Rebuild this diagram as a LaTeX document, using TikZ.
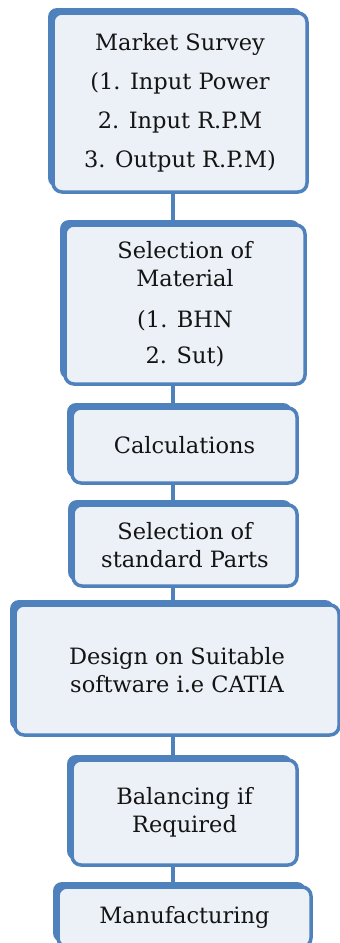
\documentclass[tikz,border=0pt]{standalone}
\usepackage{fontspec}
\setmainfont{DejaVu Serif}
\definecolor{flowBlue}{RGB}{79,129,189}
\definecolor{flowFill}{RGB}{236,240,247}
\definecolor{flowText}{RGB}{20,20,20}
\usetikzlibrary{shapes,arrows,positioning,shadows}

\begin{document}
\begin{tikzpicture}[x=1pt,y=1pt,
    stepbox/.style={draw=flowBlue, line width=3.5pt, fill=flowFill, rounded corners=9pt,
        align=center, text=flowText, inner sep=0pt,
        font=\fontsize{22.5}{28}\selectfont,
        drop shadow={shadow xshift=-5pt, shadow yshift=5pt, fill=flowBlue, opacity=1}},
    link/.style={draw=flowBlue, line width=4pt}]
    \useasboundingbox (0,0) rectangle (340,-943);
    \coordinate (spine) at (173,0);

    % Market survey (top)
    \node[stepbox, minimum width=254, minimum height=179] (survey) at (180,-102.5)
        {Market Survey\\[11pt] (1. Input Power\\[11pt] 2. Input R.P.M\\[11pt] 3. Output R.P.M)};

    % Material selection
    \node[stepbox, minimum width=240, minimum height=159] (material) at (185,-304.5)
        {Selection of\\ Material\\[13pt] (1. BHN\\[8pt] 2. Sut)};

    % Calculations
    \node[stepbox, minimum width=225, minimum height=75] (calc) at (184.5,-445.5) {Calculations};

    % Standard parts
    \node[stepbox, minimum width=224, minimum height=81] (parts) at (185,-545.5)
        {Selection of\\ standard Parts};

    % CAD design (wide box)
    \node[stepbox, minimum width=324, minimum height=130] (design) at (177,-670)
        {Design on Suitable\\ software i.e CATIA};

    % Balancing
    \node[stepbox, minimum width=225, minimum height=105] (balance) at (184.5,-812.5)
        {Balancing if\\ Required};

    % Manufacturing (bottom, cut by the page)
    \node[stepbox, minimum width=253, minimum height=60] (make) at (184.5,-917) {Manufacturing};

    % Links between the steps
    \foreach \a/\b in {survey/material, material/calc, calc/parts, parts/design, design/balance, balance/make}
        \draw[link] (\a.south -| spine) -- (\b.north -| spine);
\end{tikzpicture}
\end{document}
